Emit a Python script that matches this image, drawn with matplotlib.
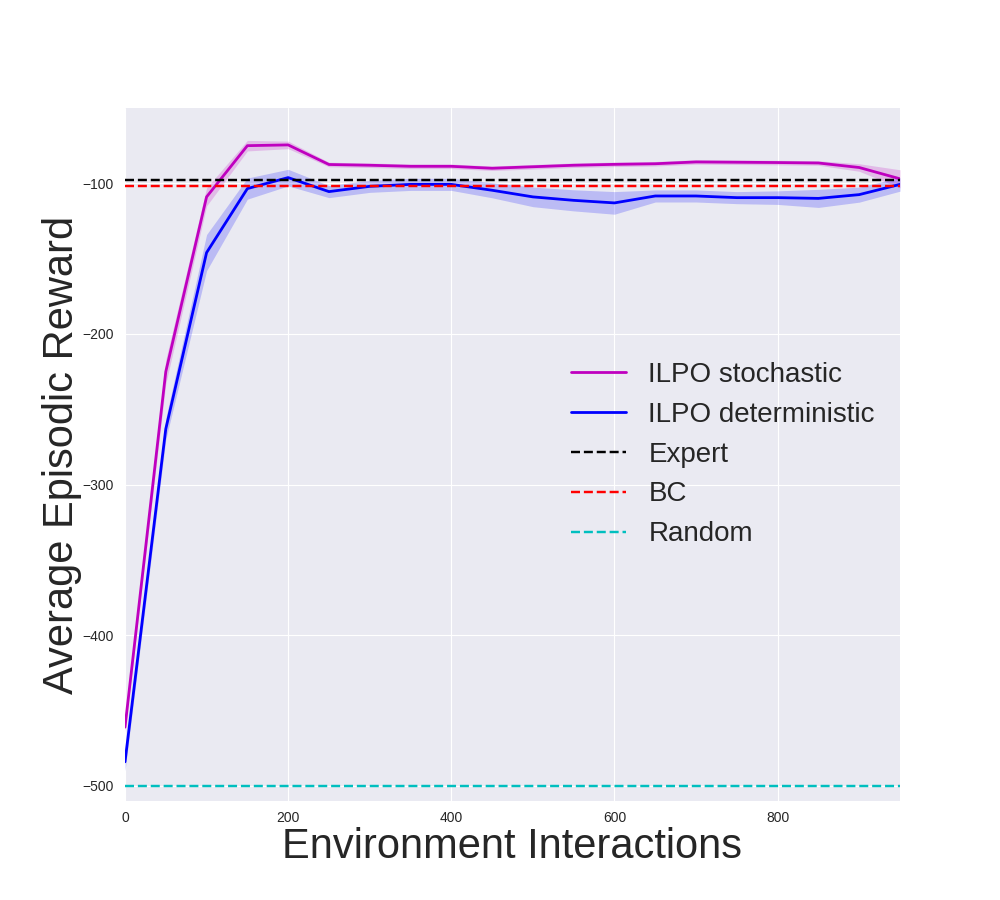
import numpy as np
import matplotlib
matplotlib.use("Agg")
import matplotlib.pyplot as plt

# data
steps = np.arange(0, 1000, 50)
stoch_mean = [-461, -225, -109, -75, -74.5, -87.5, -88, -88.7, -88.7, -90, -89, -88, -87.4, -87,
              -85.8, -86, -86.2, -86.5, -89.5, -97]
stoch_std = [3, 8, 6, 3.5, 2.5, 1.5, 1.5, 1.5, 1.5, 1.5, 1.5, 1.5, 1.5, 1.5, 1.5, 1.5, 1.5, 1.5, 2.5, 6]
det_mean = [-484, -263, -146, -103.5, -96.2, -105.5, -102, -100.7, -100.7, -104.6, -109, -111.3, -113,
            -108.4, -108.4, -109.5, -109.5, -110, -107.5, -100.7]
det_std = [6, 7, 12, 7, 5.5, 4, 4, 4, 4, 5, 6.5, 7, 7.5, 4, 4, 4, 4.5, 6, 5, 4.5]
expert_reward = -97.5
bc_reward = -101.8
random_reward = -500

plt.style.use("seaborn-v0_8-darkgrid")
plt.rcParams["font.family"] = ["Liberation Sans", "DejaVu Sans"]

fig = plt.figure(figsize=(10, 9), dpi=100)
ax = fig.add_subplot(111)

stoch_mean = np.array(stoch_mean)
stoch_std = np.array(stoch_std)
det_mean = np.array(det_mean)
det_std = np.array(det_std)

ax.plot(steps, stoch_mean, color="m", linewidth=2, label="ILPO stochastic")
ax.fill_between(steps, stoch_mean - stoch_std, stoch_mean + stoch_std, color="m", alpha=0.2, linewidth=0)
ax.plot(steps, det_mean, color="b", linewidth=2, label="ILPO deterministic")
ax.fill_between(steps, det_mean - det_std, det_mean + det_std, color="b", alpha=0.2, linewidth=0)

ax.axhline(expert_reward, color="k", linestyle="--", linewidth=1.75, label="Expert")
ax.axhline(bc_reward, color="r", linestyle="--", linewidth=1.75, label="BC")
ax.axhline(random_reward, color="c", linestyle="--", linewidth=1.75, label="Random")

ax.set_xlim(0, 950)
ax.set_ylim(-510, -50)
ax.set_xticks([0, 200, 400, 600, 800])
ax.set_yticks([-500, -400, -300, -200, -100])
ax.tick_params(axis="y", labelsize=10, pad=8)
ax.tick_params(axis="x", labelsize=10, pad=7)

ax.set_xlabel("Environment Interactions", fontsize=30, labelpad=2)
ax.set_ylabel("Average Episodic Reward", fontsize=30, labelpad=0)
ax.legend(loc="center right", fontsize=20, frameon=False)

fig.savefig("out.png", dpi=100)
